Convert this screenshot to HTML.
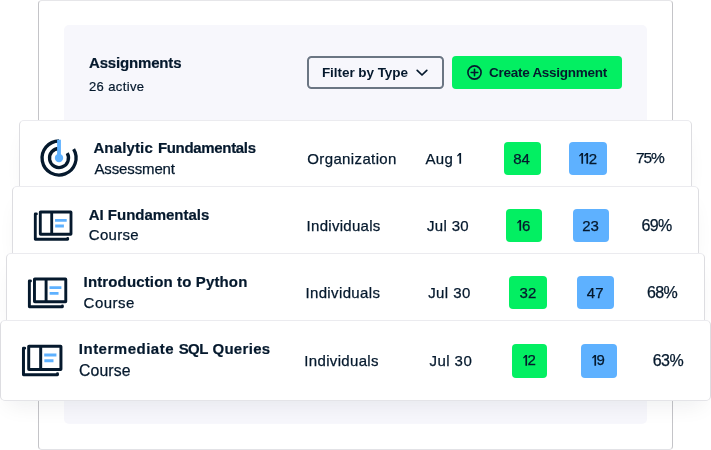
<!DOCTYPE html>
<html>
<head>
<meta charset="utf-8">
<title>Assignments</title>
<style>
  html, body { margin: 0; padding: 0; }
  body {
    width: 711px; height: 450px; overflow: hidden; position: relative;
    background: #ffffff;
    font-family: "Liberation Sans", sans-serif;
    color: #05192d;
  }
  .stage { position: absolute; left: 0; top: 0; width: 711px; height: 450px; will-change: transform; }
  .abs { position: absolute; white-space: nowrap; }
  .frame {
    position: absolute; left: 38px; top: 0; width: 633px; height: 448px;
    border: 1px solid #c4c4c8; border-top-color: #e6e6e9; border-bottom-color: #e2e2e6; border-radius: 4px; background: #fff;
  }
  .panel {
    position: absolute; left: 64px; top: 25px; width: 583px; height: 399px;
    background: #f7f7fc; border-radius: 5px;
  }
  .h1 { left: 89px; top: 54px; font-size: 15px; font-weight: 700; line-height: 18px; letter-spacing: -0.17px; -webkit-text-stroke: 0.2px #05192d; }
  .sub { left: 89px; top: 79px; font-size: 13px; line-height: 16px; letter-spacing: 0.38px; -webkit-text-stroke: 0.2px #05192d; }
  .btn-filter {
    position: absolute; left: 307px; top: 56px; width: 133px; height: 29px;
    border: 2px solid #6b7683; border-radius: 4.5px; box-sizing: content-box;
  }
  .btn-filter span { position: absolute; left: 12.9px; top: 6.6px; font-size: 13.5px; font-weight: 700; line-height: 16px; letter-spacing: -0.05px; white-space: nowrap; }
  .btn-filter svg { position: absolute; left: 106.5px; top: 10.8px; }
  .btn-create {
    position: absolute; left: 452px; top: 56px; width: 170px; height: 33px;
    background: #03ef62; border-radius: 4px;
  }
  .btn-create span { position: absolute; left: 37px; top: 8.6px; font-size: 13.5px; font-weight: 700; line-height: 16px; letter-spacing: -0.27px; white-space: nowrap; }
  .btn-create svg { position: absolute; left: 14px; top: 8.4px; }

  .card {
    position: absolute; background: #fff; border: 1px solid #dddde1; border-top-color: #ebebef; border-bottom-color: #e4e4e8; border-radius: 5px;
    box-sizing: border-box;
    box-shadow: 0 12px 22px -8px rgba(5,25,45,0.075);
  }
  .c1 { left: 19px; top: 120px; width: 673px; height: 72px; }
  .c2 { left: 12px; top: 186px; width: 687px; height: 73px; }
  .c3 { left: 6px;  top: 253px; width: 699px; height: 72px; }
  .c4 { left: 0px;  top: 320px; width: 711px; height: 81px; }

  .t  { font-size: 15px; font-weight: 700; line-height: 18px; -webkit-text-stroke: 0.2px #05192d; }
  .s  { font-size: 15px; font-weight: 400; line-height: 18px; -webkit-text-stroke: 0.25px #05192d; }
  .badge { -webkit-text-stroke: 0.25px #05192d; position: absolute; border-radius: 4px; font-size: 15px; line-height: 18px; height: 33px; }
  .badge span { position: absolute; white-space: nowrap; }
  .badge svg { position: absolute; }
  .g { background: #03ef62; }
  .b { background: #5eb1ff; }
</style>
</head>
<body>
 <div class="stage">
  <svg width="0" height="0" style="position:absolute">
    <defs>
      <g id="book">
        <g fill="none" stroke="#05192d" stroke-width="2.85">
          <rect x="8.3" y="3" width="30.7" height="22.2" rx="0.3"/>
          <path d="M19.7 3 V25.2"/>
          <path d="M4.4 4.9 H3.3 V30.2 H35.7 V29.4" stroke-linecap="round" stroke-linejoin="round"/>
        </g>
        <path d="M23.05 11.4 H34.7 M23.2 17 H31.9" stroke="#5eb1ff" stroke-width="2.8"/>
      </g>
    </defs>
  </svg>
  <div class="frame"></div>
  <div class="panel"></div>

  <div class="abs h1">Assignments</div>
  <div class="abs sub">26 active</div>

  <div class="btn-filter">
    <span>Filter by Type</span>
    <svg width="12" height="8" viewBox="0 0 12 8"><path d="M1.2 1.3 L6 6 L10.8 1.3" fill="none" stroke="#05192d" stroke-width="1.7" stroke-linecap="round" stroke-linejoin="round"/></svg>
  </div>
  <div class="btn-create">
    <svg width="17" height="17" viewBox="0 0 17 17"><circle cx="8.5" cy="8.5" r="6.6" fill="none" stroke="#05192d" stroke-width="1.6"/><path d="M8.5 5.2 V11.8 M5.2 8.5 H11.8" stroke="#05192d" stroke-width="1.6" stroke-linecap="round"/></svg>
    <span>Create Assignment</span>
  </div>

  <!-- Row 1 -->
  <div class="card c1"></div>
  <svg class="abs" style="left:38px; top:137.2px" width="42" height="42" viewBox="0 0 42 42">
    <g fill="none" stroke="#05192d" stroke-width="3.3">
      <path d="M21 4 A17 17 0 1 0 35.6 12.2"/>
      <path d="M21 11.5 A9.5 9.5 0 1 0 29.2 16.2"/>
    </g>
    <rect x="19.1" y="2.7" width="3.8" height="18" fill="#5eb1ff"/>
    <circle cx="21" cy="21" r="4.2" fill="#5eb1ff"/>
  </svg>
  <div class="abs t" style="left:93.4px; top:139px; letter-spacing:0.14px">Analytic</div>
  <div class="abs t" style="left:157.9px; top:139px; letter-spacing:-0.32px">Fundamentals</div>
  <div class="abs s" style="left:94.4px; top:159.7px; letter-spacing:-0.12px">Assessment</div>
  <div class="abs s" style="left:307.3px; top:150px; letter-spacing:0.37px">Organization</div>
  <div class="abs s" style="left:425.6px; top:150px; letter-spacing:0.25px">Aug</div>
  <svg class="abs" style="left:457.3px; top:153.2px" width="5" height="11" viewBox="0 0 5 11"><path d="M2.4 0 H4.1 V10.7 H2.4 V2 L0.75 3.6 L0 2.7 Z" fill="#05192d"/></svg>
  <div class="badge g" style="left:504px; top:142px; width:37px; height:33px"><span style="left:9.19px; top:7.94px">84</span></div>
  <div class="badge b" style="left:569px; top:142px; width:38px; height:33px"><svg style="left:9.89px; top:11.40px" width="5" height="11" viewBox="0 0 5 11"><path d="M2.4 0 H4.1 V10.7 H2.4 V2 L0.75 3.6 L0 2.7 Z" fill="#05192d"/></svg><svg style="left:14.79px; top:11.40px" width="5" height="11" viewBox="0 0 5 11"><path d="M2.4 0 H4.1 V10.7 H2.4 V2 L0.75 3.6 L0 2.7 Z" fill="#05192d"/></svg><span style="left:19.69px; top:7.94px">2</span></div>
  <div class="abs s" style="left:635.9px; top:149.3px; font-size:15.5px; letter-spacing:-1.1px">75%</div>

  <!-- Row 2 -->
  <div class="card c2"></div>
  <svg class="abs" style="left:32px; top:209px" width="44.00" height="34.00" viewBox="0 0 44 34"><use href="#book"/></svg>
  <div class="abs t" style="left:88.8px; top:206px; letter-spacing:-0.03px">AI Fundamentals</div>
  <div class="abs s" style="left:88.8px; top:225.6px; letter-spacing:0.28px">Course</div>
  <div class="abs s" style="left:306.6px; top:217px; letter-spacing:0.28px">Individuals</div>
  <div class="abs s" style="left:427px; top:217px; letter-spacing:0.33px">Jul 30</div>
  <div class="badge g" style="left:506px; top:209px; width:36px; height:33px"><svg style="left:10.79px; top:11.44px" width="5" height="11" viewBox="0 0 5 11"><path d="M2.4 0 H4.1 V10.7 H2.4 V2 L0.75 3.6 L0 2.7 Z" fill="#05192d"/></svg><span style="left:15.9px; top:7.98px">6</span></div>
  <div class="badge b" style="left:573px; top:209px; width:36px; height:33px"><span style="left:9.19px; top:7.98px">23</span></div>
  <div class="abs s" style="left:641.6px; top:216.7px; font-size:16px; letter-spacing:-0.65px">69%</div>

  <!-- Row 3 -->
  <div class="card c3"></div>
  <svg class="abs" style="left:25.96px; top:276.17px" width="44.88" height="34.68" viewBox="0 0 44 34"><use href="#book"/></svg>
  <div class="abs t" style="left:83.6px; top:273px; letter-spacing:0.14px">Introduction to Python</div>
  <div class="abs s" style="left:83.6px; top:293.5px; letter-spacing:0.5px">Course</div>
  <div class="abs s" style="left:305.4px; top:283.6px; letter-spacing:0.37px">Individuals</div>
  <div class="abs s" style="left:428.2px; top:283.6px; letter-spacing:0.42px">Jul 30</div>
  <div class="badge g" style="left:509px; top:276px; width:38px; height:33px"><span style="left:10.60px; top:8.14px">32</span></div>
  <div class="badge b" style="left:577px; top:276px; width:37px; height:33px"><span style="left:9.80px; top:8.14px">47</span></div>
  <div class="abs s" style="left:646.9px; top:283.7px; font-size:16px; letter-spacing:-0.55px">68%</div>

  <!-- Row 4 -->
  <div class="card c4"></div>
  <svg class="abs" style="left:19.75px; top:343.1px" width="46.20" height="35.70" viewBox="0 0 44 34"><use href="#book"/></svg>
  <div class="abs t" style="left:78.8px; top:340.3px; letter-spacing:0.5px">Intermediate</div>
  <div class="abs t" style="left:178.7px; top:340.3px; letter-spacing:-0.6px">SQL</div>
  <div class="abs t" style="left:212.4px; top:340.3px; letter-spacing:0.32px">Queries</div>
  <div class="abs s" style="left:79.1px; top:361.6px; font-size:15.8px; letter-spacing:0.08px">Course</div>
  <div class="abs s" style="left:304.3px; top:351.8px; letter-spacing:0.33px">Individuals</div>
  <div class="abs s" style="left:429.6px; top:351.8px; letter-spacing:0.42px">Jul 30</div>
  <div class="badge g" style="left:512px; top:344px; width:35px; height:34px"><svg style="left:10.70px; top:10.69px" width="5" height="11" viewBox="0 0 5 11"><path d="M2.4 0 H4.1 V10.7 H2.4 V2 L0.75 3.6 L0 2.7 Z" fill="#05192d"/></svg><span style="left:15.60px; top:7.23px">2</span></div>
  <div class="badge b" style="left:581px; top:344px; width:36px; height:34px"><svg style="left:10.5px; top:10.69px" width="5" height="11" viewBox="0 0 5 11"><path d="M2.4 0 H4.1 V10.7 H2.4 V2 L0.75 3.6 L0 2.7 Z" fill="#05192d"/></svg><span style="left:15.60px; top:7.23px">9</span></div>
  <div class="abs s" style="left:652.7px; top:352.1px; font-size:16px; letter-spacing:-0.55px">63%</div>
 </div>
</body>
</html>
